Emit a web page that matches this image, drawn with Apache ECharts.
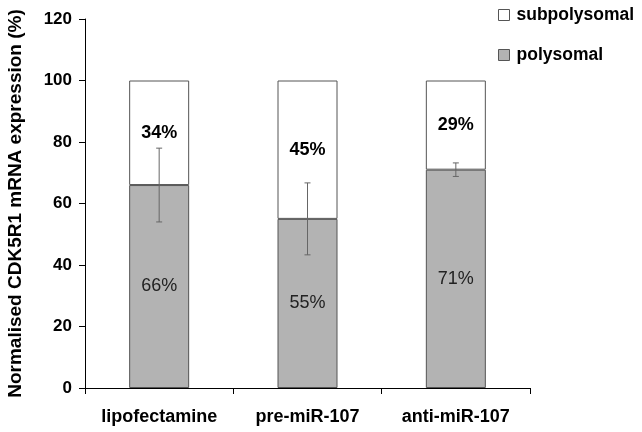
<!DOCTYPE html>
<html><head><meta charset="utf-8">
<script src="https://cdn.jsdelivr.net/npm/echarts@6/dist/echarts.min.js"></script>
<style>html,body{margin:0;padding:0;background:#fff}#c{width:642px;height:432px}</style>
</head><body><div id="c"></div>
<script>
const categories = ['lipofectamine', 'pre-miR-107', 'anti-miR-107'];
const polysomal = [66, 55, 71];
const subpolysomal = [34, 45, 29];
const errorSD = [12, 11.7, 2.2];
const yTicks = [0, 20, 40, 60, 80, 100, 120];

const FONT = '"Liberation Sans", Arial, sans-serif';
const chart = echarts.init(document.getElementById('c'));
chart.setOption({
  animation: false,
  grid: { left: 85, right: 112, top: 19, bottom: 44, containLabel: false, outerBoundsMode: 'none' },
  legend: {
    orient: 'vertical', left: 493, top: 1, itemWidth: 11, itemHeight: 11, itemGap: 22,
    icon: 'rect',
    data: ['subpolysomal', 'polysomal'],
    itemStyle: { borderColor: '#555', borderWidth: 1 },
    textStyle: { fontFamily: FONT, fontWeight: 'bold', fontSize: 17.5, color: '#000', padding: [0,0,0,2] }
  },
  xAxis: {
    type: 'category', data: categories,
    axisLine: { lineStyle: { color: '#000', width: 1 } },
    axisTick: { show: true, length: 6, lineStyle: { color: '#000' } },
    axisLabel: { interval: 0, fontFamily: FONT, fontWeight: 'bold', fontSize: 18, color: '#000', margin: 20 }
  },
  yAxis: {
    type: 'value', min: yTicks[0], max: yTicks[yTicks.length-1], interval: 20,
    name: 'Normalised CDK5R1 mRNA expression (%)', nameLocation: 'middle', nameGap: 60,
    nameTextStyle: { fontFamily: FONT, fontWeight: 'bold', fontSize: 19, color: '#000' },
    axisLine: { show: true, lineStyle: { color: '#000', width: 1 } },
    axisTick: { show: true, length: 6, lineStyle: { color: '#000' } },
    splitLine: { show: false },
    axisLabel: { fontFamily: FONT, fontWeight: 'bold', fontSize: 17, color: '#000', margin: 13 }
  },
  series: [
    {
      name: 'polysomal', type: 'bar', stack: 'a', data: polysomal, barWidth: 60,
      itemStyle: { color: '#b3b3b3', borderColor: '#555', borderWidth: 1 },
      label: { show: true, position: 'inside', formatter: '{c}%', fontFamily: FONT, fontSize: 18, color: '#222' }
    },
    {
      name: 'subpolysomal', type: 'bar', stack: 'a', data: subpolysomal, barWidth: 60,
      itemStyle: { color: '#fff', borderColor: '#555', borderWidth: 1 },
      label: { show: true, position: 'inside', formatter: '{c}%', fontFamily: FONT, fontWeight: 'bold', fontSize: 18, color: '#000' }
    },
    {
      name: 'err', type: 'custom', z: 10,
      data: polysomal.map((v, i) => [i, v - errorSD[i], v + errorSD[i]]),
      renderItem: function (params, api) {
        const lo = api.coord([api.value(0), api.value(1)]);
        const hi = api.coord([api.value(0), api.value(2)]);
        const x = lo[0], w = 3;
        const st = { stroke: '#666', lineWidth: 1 };
        return { type: 'group', children: [
          { type: 'line', shape: { x1: x, y1: lo[1], x2: x, y2: hi[1] }, style: st },
          { type: 'line', shape: { x1: x - w, y1: lo[1], x2: x + w, y2: lo[1] }, style: st },
          { type: 'line', shape: { x1: x - w, y1: hi[1], x2: x + w, y2: hi[1] }, style: st }
        ]};
      }
    }
  ]
});
</script></body></html>
